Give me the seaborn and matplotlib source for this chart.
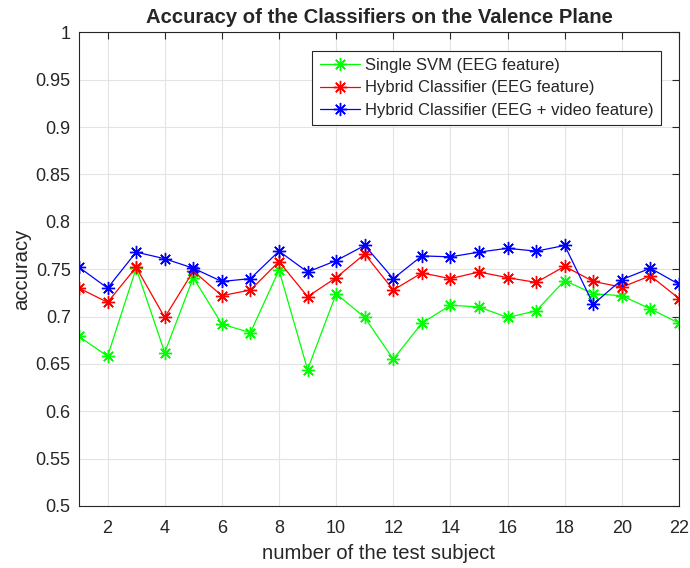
import numpy as np
import pandas as pd
import matplotlib
matplotlib.use("Agg")
import matplotlib.pyplot as plt
import seaborn as sns

subjects = list(range(1, 23))
single_svm = [0.679, 0.658, 0.751, 0.662, 0.741, 0.692, 0.683, 0.749, 0.644, 0.724, 0.699,
              0.655, 0.693, 0.712, 0.710, 0.699, 0.706, 0.738, 0.724, 0.722, 0.708, 0.693]
hybrid_eeg = [0.730, 0.715, 0.752, 0.699, 0.748, 0.722, 0.728, 0.758, 0.721, 0.741, 0.766,
              0.728, 0.746, 0.740, 0.747, 0.741, 0.736, 0.753, 0.737, 0.731, 0.743, 0.719]
hybrid_eeg_video = [0.752, 0.730, 0.768, 0.761, 0.751, 0.737, 0.740, 0.769, 0.747, 0.759, 0.775,
                    0.740, 0.764, 0.763, 0.768, 0.772, 0.769, 0.775, 0.713, 0.739, 0.751, 0.734]
series_names = ["Single SVM (EEG feature)",
                "Hybrid Classifier (EEG feature)",
                "Hybrid Classifier (EEG + video feature)"]
series_colors = ["#00ff00", "#ff0000", "#0000ff"]
y_ticks = [0.5, 0.55, 0.6, 0.65, 0.7, 0.75, 0.8, 0.85, 0.9, 0.95, 1.0]
y_tick_labels = ["0.5", "0.55", "0.6", "0.65", "0.7", "0.75", "0.8", "0.85", "0.9", "0.95", "1"]
x_ticks = list(range(2, 23, 2))

sns.set_style("white")
plt.rcParams["font.family"] = ["Liberation Sans", "DejaVu Sans"]

df = pd.DataFrame({
    "subject": subjects * 3,
    "accuracy": single_svm + hybrid_eeg + hybrid_eeg_video,
    "method": sum([[n] * len(subjects) for n in series_names], []),
})

fig = plt.figure(figsize=(6.9, 5.68), dpi=100)
ax = fig.add_axes([79 / 690, 62 / 568, 600 / 690, 473.7 / 568])

asterisk = (8, 2, 0)
for name, color in zip(series_names, series_colors):
    sub = df[df["method"] == name]
    sns.lineplot(data=sub, x="subject", y="accuracy", ax=ax, color=color,
                 linewidth=0.9, marker=asterisk, markersize=9.5,
                 markeredgecolor=color, markeredgewidth=1.0, label=name)

ax.set_xlim(1, 22)
ax.set_ylim(0.5, 1.0)
ax.set_xticks(x_ticks)
ax.set_yticks(y_ticks)
ax.set_yticklabels(y_tick_labels)
ax.grid(True, color="#e3e3e3", linewidth=0.8)
ax.set_axisbelow(True)
for s in ax.spines.values():
    s.set_color("#262626")
    s.set_linewidth(0.8)
ax.tick_params(direction="in", length=5, width=0.8, colors="#262626",
               labelsize=13, top=True, right=True, labelcolor="#262626")
ax.tick_params(axis="x", pad=10)
ax.tick_params(axis="y", pad=6)

ax.set_xlabel("number of the test subject", fontsize=14.6, color="#262626", labelpad=5)
ax.set_ylabel("accuracy", fontsize=14.6, color="#262626", labelpad=3)
ax.set_title("Accuracy of the Classifiers on the Valence Plane",
             fontsize=14.6, fontweight="bold", pad=7)

leg = ax.legend(loc="upper right", bbox_to_anchor=(0.97, 0.961), fontsize=12,
                frameon=True, fancybox=False, framealpha=1, edgecolor="#262626",
                borderpad=0.45, labelspacing=0.43, handlelength=2.4, handletextpad=0.3,
                borderaxespad=0)
leg.get_frame().set_linewidth(0.8)

fig.savefig("out.png", dpi=100)
